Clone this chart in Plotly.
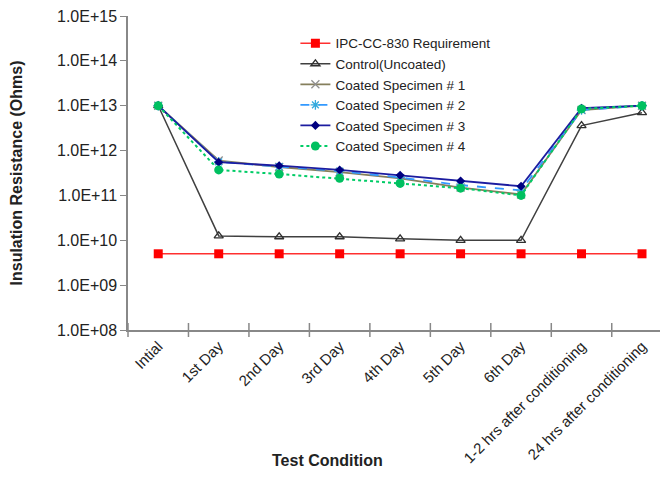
import plotly.graph_objects as go

categories = ["Intial", "1st Day", "2nd Day", "3rd Day", "4th Day", "5th Day", "6th Day",
              "1-2 hrs after conditioning", "24 hrs after conditioning"]

ipc_requirement = [5e9] * 9
control = [1e13, 1.25e10, 1.2e10, 1.2e10, 1.08e10, 1.0e10, 1.0e10, 3.6e12, 7.0e12]
coated_1 = [1e13, 6.0e11, 4.3e11, 3.3e11, 2.4e11, 1.5e11, 1.05e11, 8.0e12, 1.0e13]
coated_2 = [1e13, 5.6e11, 4.4e11, 3.5e11, 2.5e11, 1.7e11, 1.3e11, 8.0e12, 1.0e13]
coated_3 = [1e13, 5.5e11, 4.6e11, 3.7e11, 2.8e11, 2.1e11, 1.6e11, 8.8e12, 1.0e13]
coated_4 = [1e13, 3.7e11, 3.0e11, 2.4e11, 1.85e11, 1.45e11, 1.0e11, 8.5e12, 1.0e13]

ytick_vals = [1e8, 1e9, 1e10, 1e11, 1e12, 1e13, 1e14, 1e15]
ytick_text = ["1.0E+08", "1.0E+09", "1.0E+10", "1.0E+11", "1.0E+12", "1.0E+13", "1.0E+14", "1.0E+15"]

FONT = "Liberation Sans, Arial, sans-serif"
x = list(range(len(categories)))

series = [
    ("IPC-CC-830 Requirement", ipc_requirement, dict(color="#FF3030", width=1.5, dash="solid"),
     dict(symbol="square", size=9, color="#FF0000")),
    ("Control(Uncoated)", control, dict(color="#404040", width=1.5, dash="solid"),
     dict(symbol="triangle-up-open", size=8, color="#303030", line=dict(width=1.3))),
    ("Coated Specimen # 1", coated_1, dict(color="#857F5C", width=1.8, dash="solid"),
     dict(symbol="x-thin-open", size=8, color="#909090", line=dict(width=1.3, color="#909090"))),
    ("Coated Specimen # 2", coated_2, dict(color="#3399FF", width=1.8, dash="dash"),
     dict(symbol="asterisk-open", size=8, color="#33AADD", line=dict(width=1.3, color="#33AADD"))),
    ("Coated Specimen # 3", coated_3, dict(color="#1C1CA0", width=1.8, dash="solid"),
     dict(symbol="diamond", size=7, color="#000080")),
    ("Coated Specimen # 4", coated_4, dict(color="#00CC66", width=2, dash="dot"),
     dict(symbol="circle", size=9, color="#00C060")),
]

fig = go.Figure()
for name, vals, line, marker in series:
    fig.add_trace(go.Scatter(x=x, y=vals, name=name, mode="lines+markers",
                             line=line, marker=marker))

# page body has an 8px default margin, so the figure is 8px smaller than the window
fig.update_layout(
    width=660, height=473,
    margin=dict(l=120, r=0, t=8, b=151),
    paper_bgcolor="white", plot_bgcolor="white",
    font=dict(family=FONT, size=16, color="#222222"),
    showlegend=True,
    legend=dict(x=0.31, y=0.962, xanchor="left", yanchor="top",
                bgcolor="rgba(0,0,0,0)", font=dict(family=FONT, size=13.5, color="#222222"),
                tracegroupgap=0),
    xaxis=dict(
        tickmode="array", tickvals=x, ticktext=categories, tickangle=-45, automargin=False,
        range=[-0.5, 8.43], showline=True, linecolor="#888888", linewidth=1.5,
        showgrid=False, zeroline=False, ticks="", tickfont=dict(size=15, color="#222222"),
    ),
    yaxis=dict(
        type="log", range=[8, 15], tickmode="array", tickvals=ytick_vals, ticktext=ytick_text,
        automargin=False, ticklabeloverflow="allow",
        showline=True, linecolor="#888888", linewidth=1.5, showgrid=False, zeroline=False,
        ticks="outside", ticklen=6, tickcolor="#888888", tickfont=dict(size=16, color="#222222"),
        title=dict(text="<b>Insulation Resistance (Ohms)</b>", font=dict(size=16, color="#222222"),
                   standoff=30),
    ),
    annotations=[dict(text="<b>Test Condition</b>", xref="paper", yref="paper",
                      x=(327 - 128) / 540, y=-(460 - 330) / 314, xanchor="center", yanchor="middle",
                      showarrow=False, font=dict(size=16, color="#222222"))],
)

# category boundary ticks on x axis (between categories)
fig.add_trace(go.Scatter(x=[i - 0.5 for i in range(len(categories) + 1)], y=[1e8] * (len(categories) + 1),
                         mode="markers", marker=dict(symbol="line-ns", size=10,
                                                     line=dict(width=1.5, color="#888888")),
                         showlegend=False, hoverinfo="skip", cliponaxis=False))

fig.write_html("out.html")
